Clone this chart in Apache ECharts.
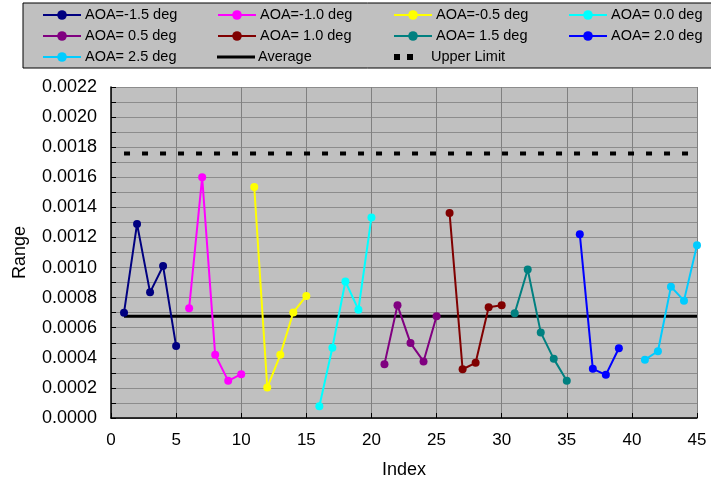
<!DOCTYPE html>
<html>
<head>
<meta charset="utf-8">
<script src="https://cdn.jsdelivr.net/npm/echarts@6/dist/echarts.min.js"></script>
<style>
  html, body { margin: 0; padding: 0; background: #fff; }
  #root { width: 711px; height: 486px; }
</style>
</head>
<body>
<div id="root"></div>
<script>
// data
var seriesNames = ['AOA=-1.5 deg', 'AOA=-1.0 deg', 'AOA=-0.5 deg', 'AOA= 0.0 deg',
                   'AOA= 0.5 deg', 'AOA= 1.0 deg', 'AOA= 1.5 deg', 'AOA= 2.0 deg', 'AOA= 2.5 deg'];
var seriesColors = ['#000080', '#ff00ff', '#ffff00', '#00ffff',
                    '#800080', '#800000', '#008080', '#0000ff', '#00ccff'];
var startIndex = [1, 6, 11, 16, 21, 26, 31, 36, 41];
var aoaM15 = [0.00070, 0.00129, 0.000835, 0.00101, 0.000478];
var aoaM10 = [0.00073, 0.00160, 0.00042, 0.000247, 0.000291];
var aoaM05 = [0.001535, 0.000202, 0.00042, 0.000702, 0.000811];
var aoa00 = [0.000078, 0.000467, 0.000907, 0.00072, 0.001333];
var aoa05 = [0.000358, 0.000749, 0.000498, 0.000376, 0.000676];
var aoa10 = [0.001362, 0.000324, 0.000367, 0.000736, 0.000749];
var aoa15 = [0.000696, 0.000987, 0.000569, 0.000393, 0.000247];
var aoa20 = [0.001222, 0.000327, 0.000287, 0.000464];
var aoa25 = [0.000387, 0.000444, 0.000873, 0.00078, 0.001149];
var allValues = [aoaM15, aoaM10, aoaM05, aoa00, aoa05, aoa10, aoa15, aoa20, aoa25];
var averageValue = 0.000676;
var upperLimit = 0.001758;
var limitRange = [1, 45];

var font = 'Liberation Sans, Arial, sans-serif';
var myChart = echarts.init(document.getElementById('root'));

var series = [];
allValues.forEach(function (vals, i) {
  series.push({
    name: seriesNames[i],
    type: 'line',
    data: vals.map(function (v, k) { return [startIndex[i] + k, v]; }),
    symbol: 'circle',
    symbolSize: 8,
    lineStyle: { width: 2, color: seriesColors[i] },
    itemStyle: { color: seriesColors[i] }
  });
});
series.push({
  name: 'Average', type: 'line', symbol: 'none',
  data: limitRange.map(function (x) { return [x, averageValue]; }),
  lineStyle: { width: 3, color: '#000' }, itemStyle: { color: '#000' }, z: 1
});
series.push({
  name: 'Upper Limit', type: 'line', symbol: 'none',
  data: limitRange.map(function (x) { return [x, upperLimit]; }),
  lineStyle: { width: 4, color: '#000', type: [6, 12] }, itemStyle: { color: '#000' }, z: 1
});

// legend columns (Average / Upper Limit keys drawn by hand below)
var legendCols = [
  [seriesNames[0], seriesNames[4], seriesNames[8]],
  [seriesNames[1], seriesNames[5]],
  [seriesNames[2], seriesNames[6]],
  [seriesNames[3], seriesNames[7]]
];
var colLeft = [42, 217, 393, 568];
var legends = legendCols.map(function (col, i) {
  return {
    orient: 'vertical', left: colLeft[i], top: 7,
    data: col, itemWidth: 38, itemHeight: 12, itemGap: 5, padding: 0,
    textStyle: { fontFamily: font, fontSize: 14.5, color: '#000', padding: [0, 0, 0, -1], lineHeight: 16 },
    selectedMode: false
  };
});

myChart.setOption({
  animation: false,
  textStyle: { fontFamily: font },
  graphic: [
    { type: 'rect', z: -1, shape: { x: 23, y: 3, width: 700, height: 65 },
      style: { fill: '#c0c0c0', stroke: '#000', lineWidth: 1 } },
    { type: 'line', shape: { x1: 217, y1: 57, x2: 255, y2: 57 }, style: { stroke: '#000', lineWidth: 3 } },
    { type: 'text', left: 258, top: 49, style: { text: 'Average', font: '14.5px ' + font, fill: '#000' } },
    { type: 'rect', shape: { x: 394, y: 54, width: 6, height: 6 }, style: { fill: '#000' } },
    { type: 'rect', shape: { x: 407, y: 54, width: 6, height: 6 }, style: { fill: '#000' } },
    { type: 'text', left: 431, top: 49, style: { text: 'Upper Limit', font: '14.5px ' + font, fill: '#000' } }
  ],
  legend: legends,
  grid: { left: 111, right: 14, top: 87, bottom: 68, show: true, backgroundColor: '#c0c0c0', borderWidth: 0 },
  xAxis: {
    type: 'value', min: 0, max: 45, interval: 5,
    name: 'Index', nameLocation: 'middle', nameGap: 43,
    nameTextStyle: { fontFamily: font, fontSize: 18, color: '#000' },
    axisLine: { show: true, lineStyle: { color: '#000', width: 1.5 } },
    axisTick: { show: true, inside: true, length: 5, lineStyle: { color: '#000' } },
    axisLabel: { fontSize: 17, color: '#000', margin: 14 },
    splitLine: { show: true, lineStyle: { color: '#808080', width: 1 } }
  },
  yAxis: {
    type: 'value', min: 0, max: 0.0022, interval: 0.0001,
    name: 'Range', nameLocation: 'middle', nameGap: 82,
    nameTextStyle: { fontFamily: font, fontSize: 18, color: '#000' },
    axisLine: { show: true, lineStyle: { color: '#000', width: 1.5 } },
    axisTick: { show: true, inside: true, length: 5, lineStyle: { color: '#000' } },
    axisLabel: {
      fontSize: 18, color: '#000', margin: 14,
      formatter: function (v) { return Math.round(v / 0.0001) % 2 === 0 ? v.toFixed(4) : ''; }
    },
    splitLine: { show: true, lineStyle: { color: '#8c8c8c', width: 1 } }
  },
  series: series
});
</script>
</body>
</html>
